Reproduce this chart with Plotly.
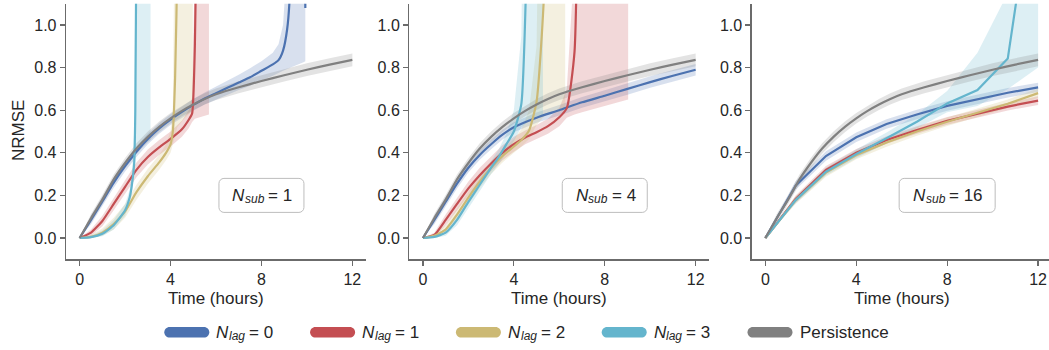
import plotly.graph_objects as go

# ---------------- data ----------------
# Persistence baseline (identical in all panels)
T_PERS = [0, 0.5, 1, 1.5, 2, 2.5, 3, 3.5, 4, 4.5, 5, 5.5, 6, 7, 8, 9, 10, 11, 12]
PERS_MEAN = [0, 0.093, 0.18, 0.275, 0.352, 0.42, 0.475, 0.522, 0.562, 0.597, 0.627, 0.653, 0.675, 0.708, 0.737, 0.764, 0.79, 0.814, 0.836]
PERS_LO = [0, 0.073, 0.158, 0.252, 0.328, 0.395, 0.45, 0.497, 0.537, 0.572, 0.601, 0.627, 0.648, 0.68, 0.709, 0.735, 0.76, 0.784, 0.806]
PERS_HI = [0, 0.113, 0.202, 0.298, 0.376, 0.445, 0.5, 0.547, 0.587, 0.622, 0.653, 0.679, 0.702, 0.736, 0.765, 0.793, 0.82, 0.844, 0.866]

# Panel 1: N_sub = 1
P1_T_LAG0 = [0, 0.5, 1, 1.5, 2, 2.5, 3, 3.5, 4, 4.5, 5, 5.5, 6, 6.5, 7, 7.5, 8, 8.5, 8.75, 8.95, 9.13, 9.25, 9.5, 9.85, 9.93]
P1_MEAN_LAG0 = [0, 0.085, 0.172, 0.26, 0.337, 0.405, 0.465, 0.515, 0.556, 0.592, 0.625, 0.655, 0.68, 0.705, 0.73, 0.755, 0.785, 0.815, 0.835, 0.88, 0.98, 1.15, 4, 20, 1.08]
P1_LO_LAG0 = [0, 0.065, 0.15, 0.236, 0.312, 0.38, 0.44, 0.49, 0.531, 0.566, 0.598, 0.627, 0.65, 0.672, 0.695, 0.715, 0.74, 0.762, 0.775, 0.785, 0.795, 0.8, 0.81, 0.825, 0.83]
P1_HI_LAG0 = [0, 0.105, 0.194, 0.284, 0.362, 0.43, 0.49, 0.54, 0.581, 0.618, 0.652, 0.683, 0.71, 0.738, 0.767, 0.797, 0.83, 0.87, 0.91, 1.0, 1.3, 2, 5, 20, 20]

P1_T_LAG1 = [0, 0.5, 1, 1.5, 2, 2.5, 3, 3.5, 4, 4.5, 4.8, 4.95, 5.07, 5.15, 5.4, 5.69]
P1_MEAN_LAG1 = [0, 0.025, 0.08, 0.16, 0.24, 0.32, 0.38, 0.425, 0.465, 0.51, 0.555, 0.585, 0.9, 1.5, 5, 10]
P1_LO_LAG1 = [0, 0.01, 0.055, 0.13, 0.205, 0.285, 0.345, 0.39, 0.43, 0.475, 0.515, 0.545, 0.56, 0.565, 0.572, 0.58]
P1_HI_LAG1 = [0, 0.04, 0.105, 0.19, 0.275, 0.355, 0.415, 0.46, 0.5, 0.55, 0.6, 0.66, 1.3, 3, 10, 10]

P1_T_LAG2 = [0, 0.5, 1, 1.5, 2, 2.5, 3, 3.5, 3.8, 4.0, 4.1, 4.2, 4.3, 4.6, 4.98]
P1_MEAN_LAG2 = [0, 0.005, 0.025, 0.065, 0.125, 0.215, 0.29, 0.355, 0.4, 0.44, 0.5, 0.75, 1.3, 5, 10]
P1_LO_LAG2 = [0, 0, 0.01, 0.04, 0.095, 0.18, 0.255, 0.32, 0.365, 0.4, 0.44, 0.48, 0.52, 0.56, 0.6]
P1_HI_LAG2 = [0, 0.015, 0.045, 0.095, 0.16, 0.25, 0.325, 0.39, 0.44, 0.5, 0.6, 1.2, 3, 10, 10]

P1_T_LAG3 = [0, 0.5, 1, 1.5, 2, 2.2, 2.3, 2.4, 2.45, 2.5, 2.7, 3.12]
P1_MEAN_LAG3 = [0, 0.004, 0.02, 0.06, 0.13, 0.19, 0.25, 0.35, 0.6, 1.5, 5, 10]
P1_LO_LAG3 = [0, 0, 0.008, 0.04, 0.105, 0.16, 0.21, 0.3, 0.38, 0.42, 0.44, 0.46]
P1_HI_LAG3 = [0, 0.012, 0.035, 0.085, 0.16, 0.225, 0.3, 0.5, 1.2, 3, 10, 10]

# Panel 2: N_sub = 4
P2_T_LAG0 = [0, 0.5, 1, 1.5, 2, 2.5, 3, 3.5, 4, 5, 6, 7, 8, 9, 10, 11, 12]
P2_MEAN_LAG0 = [0, 0.085, 0.17, 0.255, 0.33, 0.39, 0.44, 0.485, 0.52, 0.565, 0.60, 0.637, 0.668, 0.70, 0.732, 0.762, 0.79]
P2_LO_LAG0 = [0, 0.065, 0.148, 0.232, 0.307, 0.367, 0.417, 0.462, 0.497, 0.541, 0.575, 0.612, 0.642, 0.673, 0.705, 0.735, 0.763]
P2_HI_LAG0 = [0, 0.105, 0.192, 0.278, 0.353, 0.413, 0.463, 0.508, 0.543, 0.589, 0.625, 0.662, 0.694, 0.727, 0.759, 0.789, 0.817]

P2_T_LAG1 = [0, 0.5, 1, 1.5, 2, 2.5, 3, 3.5, 4, 4.5, 5, 5.5, 6, 6.33, 6.67, 7.0, 7.33, 7.67, 8.0, 8.33, 8.67, 9.03]
P2_MEAN_LAG1 = [0, 0.014, 0.085, 0.16, 0.233, 0.295, 0.35, 0.4, 0.44, 0.472, 0.497, 0.525, 0.567, 0.61, 0.875, 3, 5, 6, 7, 8, 9, 10]
P2_LO_LAG1 = [0, 0.004, 0.06, 0.13, 0.2, 0.26, 0.315, 0.365, 0.405, 0.44, 0.465, 0.49, 0.525, 0.565, 0.58, 0.59, 0.6, 0.61, 0.62, 0.63, 0.64, 0.65]
P2_HI_LAG1 = [0, 0.025, 0.11, 0.19, 0.265, 0.33, 0.385, 0.435, 0.475, 0.505, 0.53, 0.56, 0.61, 0.7, 1.3, 10, 10, 10, 10, 10, 10, 10]

P2_T_LAG2 = [0, 0.5, 1, 1.5, 2, 2.5, 3, 3.5, 4, 4.33, 4.67, 5.0, 5.33, 5.67, 6.0, 6.26]
P2_MEAN_LAG2 = [0, 0.01, 0.04, 0.11, 0.19, 0.265, 0.33, 0.385, 0.43, 0.46, 0.505, 0.64, 1.15, 4, 6, 8]
P2_LO_LAG2 = [0, 0.002, 0.02, 0.08, 0.16, 0.235, 0.3, 0.355, 0.4, 0.43, 0.465, 0.53, 0.57, 0.59, 0.6, 0.6]
P2_HI_LAG2 = [0, 0.02, 0.06, 0.14, 0.22, 0.295, 0.36, 0.415, 0.465, 0.51, 0.6, 0.9, 3, 10, 10, 10]

P2_T_LAG3 = [0, 0.5, 1, 1.5, 2, 2.5, 3, 3.33, 3.67, 4.0, 4.33, 4.67, 5.0, 5.28]
P2_MEAN_LAG3 = [0, 0.005, 0.025, 0.085, 0.17, 0.25, 0.33, 0.38, 0.44, 0.50, 0.63, 1.8, 5, 8]
P2_LO_LAG3 = [0, 0, 0.01, 0.06, 0.14, 0.22, 0.3, 0.345, 0.4, 0.455, 0.52, 0.55, 0.57, 0.58]
P2_HI_LAG3 = [0, 0.012, 0.045, 0.11, 0.2, 0.28, 0.36, 0.415, 0.49, 0.6, 0.95, 5, 10, 10]

# Panel 3: N_sub = 16 (coarser time step)
P3_T = [0, 1.333, 2.667, 4, 5.333, 6.667, 8, 9.333, 10.667, 12]
P3_MEAN_LAG0 = [0, 0.246, 0.385, 0.473, 0.535, 0.58, 0.62, 0.65, 0.682, 0.707]
P3_LO_LAG0 = [0, 0.226, 0.363, 0.451, 0.513, 0.558, 0.598, 0.628, 0.66, 0.685]
P3_HI_LAG0 = [0, 0.266, 0.407, 0.495, 0.557, 0.602, 0.642, 0.672, 0.704, 0.729]
P3_MEAN_LAG1 = [0, 0.183, 0.32, 0.40, 0.46, 0.507, 0.55, 0.585, 0.617, 0.645]
P3_LO_LAG1 = [0, 0.166, 0.302, 0.382, 0.442, 0.489, 0.532, 0.567, 0.599, 0.625]
P3_HI_LAG1 = [0, 0.2, 0.338, 0.418, 0.478, 0.525, 0.568, 0.603, 0.635, 0.665]
P3_MEAN_LAG2 = [0, 0.178, 0.307, 0.39, 0.448, 0.50, 0.546, 0.588, 0.63, 0.68]
P3_LO_LAG2 = [0, 0.16, 0.287, 0.37, 0.428, 0.48, 0.526, 0.568, 0.61, 0.658]
P3_HI_LAG2 = [0, 0.196, 0.327, 0.41, 0.468, 0.52, 0.566, 0.608, 0.65, 0.702]
P3_MEAN_LAG3 = [0, 0.178, 0.311, 0.394, 0.468, 0.546, 0.632, 0.695, 0.843, 1.8]
P3_LO_LAG3 = [0, 0.163, 0.293, 0.375, 0.445, 0.515, 0.59, 0.62, 0.70, 0.80]
P3_HI_LAG3 = [0, 0.193, 0.33, 0.415, 0.495, 0.58, 0.69, 0.87, 1.15, 3.0]

X_TICKS = [0, 4, 8, 12]
Y_TICKS = [0.0, 0.2, 0.4, 0.6, 0.8, 1.0]
Y_TICK_TEXT = ["0.0", "0.2", "0.4", "0.6", "0.8", "1.0"]
PANEL_NSUB = ["1", "4", "16"]
LEGEND_NLAG = ["0", "1", "2", "3"]
PERSISTENCE_LABEL = "Persistence"
COLORS = ["#4C72B0", "#C44E52", "#CCB974", "#64B5CD", "#808080"]

# ---------------- styling ----------------
W, H = 1049, 350
FONT = "Liberation Sans, Arial, sans-serif"
TXT = "#262626"
AX = "#6b6b6b"
BAND_ALPHA = 0.22
LINE_W = 2.2
FS = 17          # label font size
FS_SUB = 12      # subscript font size

X_DOMAINS_PX = [(66, 366), (409.3, 709.3), (751.7, 1049)]
X_RANGES = [(-0.6, 12.6), (-0.6, 12.6), (-0.6, 12.48)]
Y_DOMAIN = [1 - 259.3 / H, 1 - 3.7 / H]

# approximate Liberation Sans advance widths (em) for layout of math-like labels
ADV = {"N": 0.722, "l": 0.222, "a": 0.556, "g": 0.556, "s": 0.5, "u": 0.556, "b": 0.556,
       "=": 0.584, " ": 0.278, "0": 0.556, "1": 0.556, "2": 0.556, "3": 0.556, "4": 0.556, "6": 0.556}


def text_w(s, size):
    return sum(ADV.get(c, 0.556) for c in s) * size


def rgba(hex_color, a):
    h = hex_color.lstrip("#")
    r, g, b = int(h[0:2], 16), int(h[2:4], 16), int(h[4:6], 16)
    return f"rgba({r},{g},{b},{a})"


def rounded_rect_path(hw, hh, r):
    k = 0.5523 * r
    return (f"M {-hw + r},{-hh} L {hw - r},{-hh} C {hw - r + k},{-hh} {hw},{-hh + r - k} {hw},{-hh + r} "
            f"L {hw},{hh - r} C {hw},{hh - r + k} {hw - r + k},{hh} {hw - r},{hh} "
            f"L {-hw + r},{hh} C {-hw + r - k},{hh} {-hw},{hh - r + k} {-hw},{hh - r} "
            f"L {-hw},{-hh + r} C {-hw},{-hh + r - k} {-hw + r - k},{-hh} {-hw + r},{-hh} Z")


def math_label(sub, value, xref, yref, x, y, x0_shift):
    """N_{sub} = value built from three text pieces; x0_shift = pixel offset of the left edge."""
    w_n = text_w("N", FS) + 0.5
    w_sub = text_w(sub, FS_SUB)
    gap = 4
    base = dict(xref=xref, yref=yref, x=x, y=y, showarrow=False, xanchor="left", yanchor="middle")
    return [
        dict(base, text="N", xshift=x0_shift,
             font=dict(family=FONT, size=FS, color=TXT, style="italic")),
        dict(base, text=sub, xshift=x0_shift + w_n, yshift=-4,
             font=dict(family=FONT, size=FS_SUB, color=TXT, style="italic")),
        dict(base, text="= " + value, xshift=x0_shift + w_n + w_sub + gap,
             font=dict(family=FONT, size=FS, color=TXT)),
    ]


def math_label_width(sub, value):
    return text_w("N", FS) + 0.5 + text_w(sub, FS_SUB) + 4 + text_w("= " + value, FS)


panels = [
    [(P1_T_LAG0, P1_MEAN_LAG0, P1_LO_LAG0, P1_HI_LAG0),
     (P1_T_LAG1, P1_MEAN_LAG1, P1_LO_LAG1, P1_HI_LAG1),
     (P1_T_LAG2, P1_MEAN_LAG2, P1_LO_LAG2, P1_HI_LAG2),
     (P1_T_LAG3, P1_MEAN_LAG3, P1_LO_LAG3, P1_HI_LAG3),
     (T_PERS, PERS_MEAN, PERS_LO, PERS_HI)],
    [(P2_T_LAG0, P2_MEAN_LAG0, P2_LO_LAG0, P2_HI_LAG0),
     (P2_T_LAG1, P2_MEAN_LAG1, P2_LO_LAG1, P2_HI_LAG1),
     (P2_T_LAG2, P2_MEAN_LAG2, P2_LO_LAG2, P2_HI_LAG2),
     (P2_T_LAG3, P2_MEAN_LAG3, P2_LO_LAG3, P2_HI_LAG3),
     (T_PERS, PERS_MEAN, PERS_LO, PERS_HI)],
    [(P3_T, P3_MEAN_LAG0, P3_LO_LAG0, P3_HI_LAG0),
     (P3_T, P3_MEAN_LAG1, P3_LO_LAG1, P3_HI_LAG1),
     (P3_T, P3_MEAN_LAG2, P3_LO_LAG2, P3_HI_LAG2),
     (P3_T, P3_MEAN_LAG3, P3_LO_LAG3, P3_HI_LAG3),
     (T_PERS, PERS_MEAN, PERS_LO, PERS_HI)],
]
SERIES_NAMES = [f"N_lag = {v}" for v in LEGEND_NLAG] + [PERSISTENCE_LABEL]

fig = go.Figure()
for p, series in enumerate(panels):
    xa = "x" if p == 0 else f"x{p + 1}"
    ya = "y" if p == 0 else f"y{p + 1}"
    # uncertainty bands
    for s, (t, m, lo, hi) in enumerate(series):
        fig.add_trace(go.Scatter(
            x=list(t) + list(t)[::-1], y=list(hi) + list(lo)[::-1],
            fill="toself", fillcolor=rgba(COLORS[s], BAND_ALPHA),
            line=dict(width=0), mode="lines", hoverinfo="skip",
            showlegend=False, xaxis=xa, yaxis=ya))
    # mean lines (smooth curves for the fine-resolution panels and persistence)
    for s, (t, m, lo, hi) in enumerate(series):
        line = dict(color=COLORS[s], width=LINE_W)
        if p < 2 or s == 4:
            line.update(shape="spline", smoothing=0.5)
        fig.add_trace(go.Scatter(
            x=t, y=m, mode="lines", name=SERIES_NAMES[s],
            line=line, showlegend=False, xaxis=xa, yaxis=ya))

layout = dict(
    width=W, height=H, autosize=False,
    margin=dict(l=0, r=0, t=0, b=0),
    paper_bgcolor="white", plot_bgcolor="white",
    showlegend=False,
    font=dict(family=FONT, color=TXT, size=16),
)
for p in range(3):
    sfx = "" if p == 0 else str(p + 1)
    d0, d1 = X_DOMAINS_PX[p]
    layout["xaxis" + sfx] = dict(
        domain=[d0 / W, min(d1 / W, 1.0)], range=list(X_RANGES[p]),
        anchor="y" + sfx, tickvals=X_TICKS, ticks="outside", ticklen=5,
        tickwidth=1.3, tickcolor=AX, showline=True, linecolor=AX, linewidth=1.3,
        showgrid=False, zeroline=False, tickfont=dict(family=FONT, size=16, color=TXT),
        automargin=False, fixedrange=True)
    layout["yaxis" + sfx] = dict(
        domain=Y_DOMAIN, range=[-0.1, 1.1], anchor="x" + sfx,
        tickvals=Y_TICKS, ticktext=Y_TICK_TEXT, ticks="outside", ticklen=5,
        tickwidth=1.3, tickcolor=AX, showline=True, linecolor=AX, linewidth=1.3,
        showgrid=False, zeroline=False, tickfont=dict(family=FONT, size=16, color=TXT),
        automargin=False, fixedrange=True)
fig.update_layout(**layout)

annotations = []
shapes = []
# axis titles
annotations.append(dict(text="NRMSE", xref="paper", yref="paper", x=18 / W, y=1 - 131 / H,
                        textangle=-90, showarrow=False, xanchor="center", yanchor="middle",
                        font=dict(family=FONT, size=FS, color=TXT)))
for p in range(3):
    sfx = "" if p == 0 else str(p + 1)
    annotations.append(dict(text="Time (hours)", xref="x" + sfx, yref="paper", x=6, y=1 - 298 / H,
                            showarrow=False, xanchor="center", yanchor="middle",
                            font=dict(family=FONT, size=FS, color=TXT)))
    # panel label box with N_sub text
    hw = 48 if p == 2 else 42.5
    shapes.append(dict(type="path", xref="x" + sfx, yref="y" + sfx, xsizemode="pixel", ysizemode="pixel",
                       xanchor=8, yanchor=0.2, path=rounded_rect_path(hw, 17, 5),
                       fillcolor="white", line=dict(color="#bdbdbd", width=1), layer="above"))
    lw = math_label_width("sub", PANEL_NSUB[p])
    annotations += math_label("sub", PANEL_NSUB[p], "x" + sfx, "y" + sfx, 8, 0.2, -lw / 2 - 1)

# legend (drawn manually: pill-shaped swatches + labels)
LEG_PILL_CX = [186.8, 332.6, 478.4, 624.2, 770.0]
LEG_Y = 332.3
for s in range(5):
    shapes.append(dict(type="path", xref="paper", yref="paper", xsizemode="pixel", ysizemode="pixel",
                       xanchor=LEG_PILL_CX[s] / W, yanchor=1 - LEG_Y / H,
                       path=rounded_rect_path(22.5, 5.3, 5.3),
                       fillcolor=COLORS[s], line=dict(width=0), layer="above"))
    if s < 4:
        annotations += math_label("lag", LEGEND_NLAG[s], "paper", "paper",
                                  (LEG_PILL_CX[s] + 27.5) / W, 1 - LEG_Y / H, 0)
    else:
        annotations.append(dict(text=PERSISTENCE_LABEL, xref="paper", yref="paper",
                                x=(LEG_PILL_CX[s] + 27.5) / W, y=1 - LEG_Y / H,
                                showarrow=False, xanchor="left", yanchor="middle",
                                font=dict(family=FONT, size=FS, color=TXT)))

fig.update_layout(annotations=annotations, shapes=shapes)
fig.write_html("out.html", config={"displayModeBar": False, "staticPlot": True})
